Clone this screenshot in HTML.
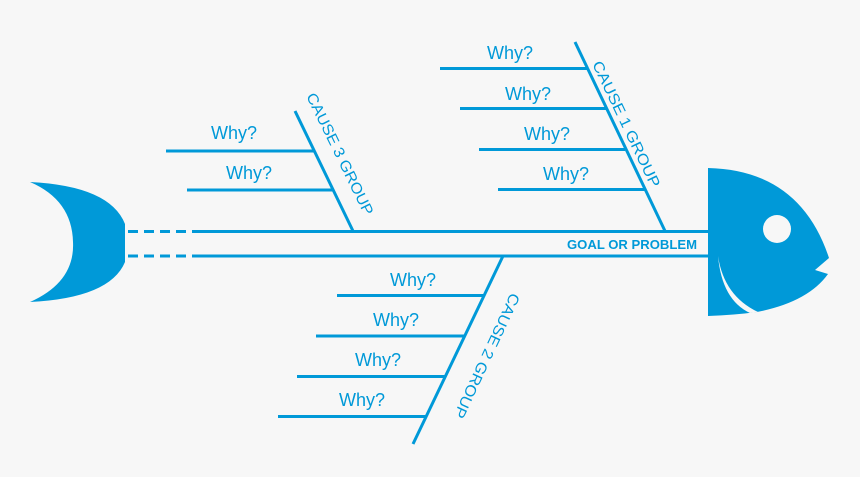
<!DOCTYPE html>
<html><head><style>html,body{margin:0;padding:0;background:#f7f7f7;}svg{display:block}</style></head>
<body>
<svg width="860" height="477" viewBox="0 0 860 477" xmlns="http://www.w3.org/2000/svg">
<rect width="860" height="477" fill="#f7f7f7"/>
<g fill="#0099d8">
<!-- tail -->
<path d="M30,182 Q110,186 125,224 L125,262 Q110,298 30,302 Q75,282 73,242 Q72,200 30,182 Z"/>
<!-- head -->
<path d="M708,168 Q800,170 829,258 L815,270 L828,274 Q808,302 757,312 Q735,315 708,316 Z"/>
</g>
<path d="M718,256 Q724,296 758,312 L750,313 Q722,300 718,256 Z" fill="#f7f7f7"/>
<circle cx="777" cy="229" r="14" fill="#f7f7f7"/>
<g stroke="#0099d8" stroke-width="3" fill="none">
<line x1="128" y1="231.5" x2="193" y2="231.5" stroke-dasharray="10,6"/>
<line x1="128" y1="256" x2="193" y2="256" stroke-dasharray="10,6"/>
<line x1="192" y1="231.5" x2="708" y2="231.5"/>
<line x1="192" y1="256" x2="708" y2="256"/>
<!-- cause 1 -->
<line x1="575" y1="42" x2="665" y2="231"/>
<line x1="440" y1="68.5" x2="587" y2="68.5"/>
<line x1="460" y1="108.5" x2="606" y2="108.5"/>
<line x1="479" y1="149.5" x2="625" y2="149.5"/>
<line x1="498" y1="189.5" x2="645" y2="189.5"/>
<!-- cause 3 -->
<line x1="295" y1="111" x2="353" y2="231"/>
<line x1="166" y1="151" x2="315" y2="151"/>
<line x1="187" y1="190" x2="334" y2="190"/>
<!-- cause 2 -->
<line x1="503" y1="256" x2="413" y2="444"/>
<line x1="337" y1="295.5" x2="484" y2="295.5"/>
<line x1="316" y1="336" x2="465" y2="336"/>
<line x1="297" y1="376.5" x2="446" y2="376.5"/>
<line x1="278" y1="416.5" x2="427" y2="416.5"/>
</g>
<g fill="#0099d8" font-family="Liberation Sans, sans-serif" font-size="18">
<text x="487" y="59">Why?</text>
<text x="505" y="100">Why?</text>
<text x="524" y="140">Why?</text>
<text x="543" y="180">Why?</text>
<text x="211" y="139">Why?</text>
<text x="226" y="179">Why?</text>
<text x="390" y="286">Why?</text>
<text x="373" y="326">Why?</text>
<text x="355" y="366">Why?</text>
<text x="339" y="406">Why?</text>
<text font-size="15" transform="translate(592,64) rotate(64.5)" x="0" y="0" textLength="138" lengthAdjust="spacingAndGlyphs">CAUSE 1 GROUP</text>
<text font-size="15" transform="translate(306,96) rotate(64)" x="0" y="0" textLength="134" lengthAdjust="spacingAndGlyphs">CAUSE 3 GROUP</text>
<text font-size="15" transform="translate(511,292) rotate(115)" x="0" y="0" textLength="136" lengthAdjust="spacingAndGlyphs">CAUSE 2 GROUP</text>
<text font-size="12.5" font-weight="bold" x="567" y="249" textLength="130" lengthAdjust="spacingAndGlyphs">GOAL OR PROBLEM</text>
</g>
</svg>
</body></html>
